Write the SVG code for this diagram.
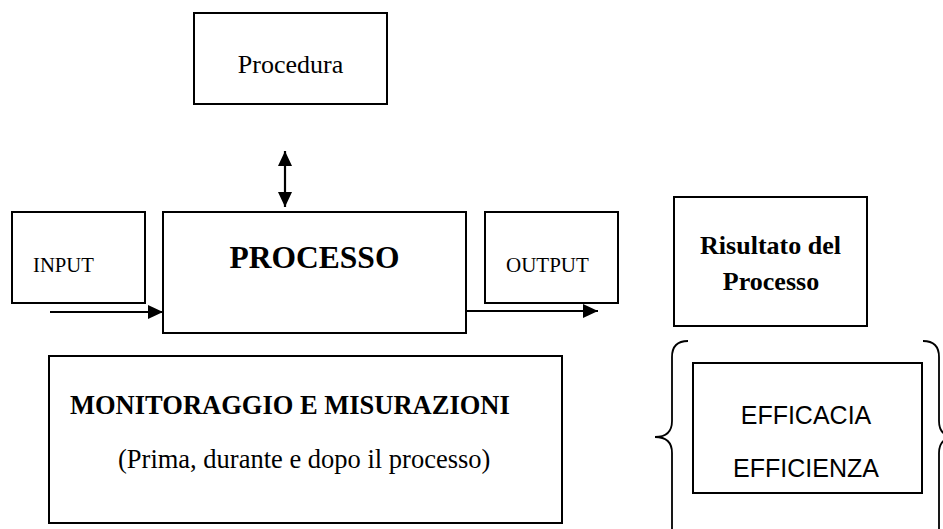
<svg xmlns="http://www.w3.org/2000/svg" width="943" height="529" viewBox="0 0 943 529">
<style>
.box{fill:#fff;stroke:#000;stroke-width:2}
.ln{fill:none;stroke:#000;stroke-width:2.2}
.br{fill:none;stroke:#000;stroke-width:1.8}
.t{font-family:"Liberation Serif","Times New Roman",serif;fill:#000}
.b{font-weight:bold}
.s{font-family:"Liberation Sans",Arial,sans-serif;fill:#000}
</style>
<defs>
<marker id="ah" viewBox="0 0 15 14" refX="15" refY="7" markerWidth="15" markerHeight="14" markerUnits="userSpaceOnUse" orient="auto-start-reverse">
<path d="M0,0 L15,7 L0,14 Z" fill="#000"/>
</marker>
</defs>
<rect width="943" height="529" fill="#fff"/>
<g id="procedura">
<rect class="box" x="194" y="13" width="193" height="91"/>
<text class="t" x="290.5" y="73" font-size="26" text-anchor="middle">Procedura</text>
</g>
<g id="input">
<rect class="box" x="12" y="212" width="133" height="91"/>
<text class="t" x="33" y="272" font-size="20.7">INPUT</text>
</g>
<g id="processo">
<rect class="box" x="163" y="212" width="303" height="121"/>
<text class="t b" x="314.5" y="268" font-size="31.5" text-anchor="middle">PROCESSO</text>
</g>
<g id="output">
<rect class="box" x="485" y="212" width="133" height="91"/>
<text class="t" x="506" y="272" font-size="21">OUTPUT</text>
</g>
<g id="risultato">
<rect class="box" x="674" y="197" width="193" height="129"/>
<text class="t b" x="770.5" y="254" font-size="26" text-anchor="middle">Risultato del</text>
<text class="t b" x="771" y="290" font-size="26" text-anchor="middle">Processo</text>
</g>
<g id="monitoraggio">
<rect class="box" x="49" y="356" width="513" height="167"/>
<text class="t b" x="70" y="414" font-size="26.5">MONITORAGGIO E MISURAZIONI</text>
<text class="t" x="118" y="468" font-size="26.5">(Prima, durante e dopo il processo)</text>
</g>
<g id="efficacia">
<rect class="box" x="693" y="363" width="229" height="130"/>
<text class="s" x="806" y="424" font-size="25" text-anchor="middle">EFFICACIA</text>
<text class="s" x="806" y="477" font-size="25" text-anchor="middle">EFFICIENZA</text>
</g>
<g id="connectors">
<line class="ln" x1="285" y1="151" x2="285" y2="207" marker-start="url(#ah)" marker-end="url(#ah)"/>
<line class="ln" x1="50" y1="312" x2="163" y2="312" marker-end="url(#ah)"/>
<line class="ln" x1="466" y1="311" x2="598" y2="311" marker-end="url(#ah)"/>
<path class="br" d="M688,341 Q672,341 672,357 L672,421 Q672,437 655,437 Q672,437 672,453 L672,529 Q672,545 688,545"/>
<path class="br" d="M923,341 Q939,341 939,357 L939,421 Q939,437 956,437 Q939,437 939,453 L939,529 Q939,545 923,545"/>
</g>
</svg>
